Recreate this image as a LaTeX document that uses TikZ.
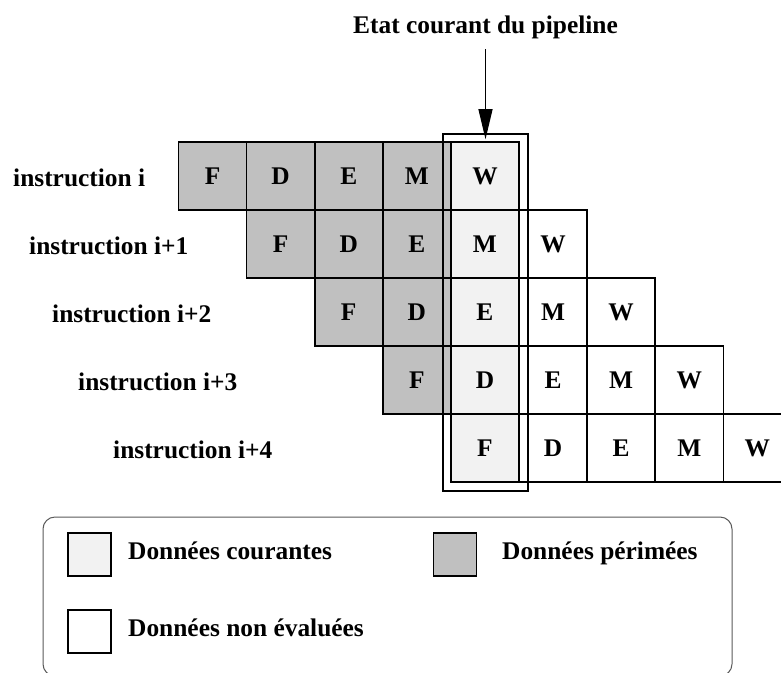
\documentclass[tikz,border=0pt]{standalone}
\usepackage{fontspec}
\setmainfont{Liberation Serif}
\usetikzlibrary{arrows.meta}

\definecolor{courant}{RGB}{242,242,242}
\definecolor{perime}{RGB}{192,192,192}
\definecolor{legendline}{RGB}{90,90,90}

\tikzset{
  txt/.style={font=\fontsize{25.4}{30}\selectfont\bfseries, inner sep=0pt},
  cell/.style={txt, draw=black, line width=1.6pt,
    minimum width=68.1pt, minimum height=68pt, anchor=center},
  swatch/.style={draw=black, line width=1.3pt, inner sep=0pt,
    minimum width=43pt, minimum height=43pt},
  rowlabel/.style={txt, anchor=base west},
  legtext/.style={txt, anchor=base west},
}

\begin{document}
\begin{tikzpicture}[x=1pt, y=-1pt]
  \useasboundingbox (0,0) rectangle (781,672);
  \clip (0,0) rectangle (781,672);
  \fill[white] (0,0) rectangle (781,672);

  % title
  \node[txt, anchor=base] (title) at (485.5,33) {Etat courant du pipeline};

  % pipeline stages, one row per instruction, shifted one column per row
  \foreach \r in {0,...,4}{
    \foreach \k/\l in {0/F,1/D,2/E,3/M,4/W}{
      \pgfmathtruncatemacro{\c}{\r+\k}
      \ifnum\c<4 \def\cellfill{perime}\else
        \ifnum\c=4 \def\cellfill{courant}\else\def\cellfill{white}\fi\fi
      \node[cell, fill=\cellfill] (c\r\k)
        at ({178.5+68.1*\c+34.05},{142+68*\r+34}) {\l};
    }
  }

  % row labels
  \node[rowlabel] (l0) at (13,186)  {instruction i};
  \node[rowlabel] (l1) at (29,254)  {instruction i+1};
  \node[rowlabel] (l2) at (52,322)  {instruction i+2};
  \node[rowlabel] (l3) at (78,390)  {instruction i+3};
  \node[rowlabel] (l4) at (113,458) {instruction i+4};

  % frame around the current column
  \node[draw=black, line width=1.6pt, inner sep=0pt,
        minimum width=85pt, minimum height=357pt] (cur) at (485.5,312.5) {};

  % pointer from the title
  \coordinate (astart) at (485.5,49);
  \draw[-{Triangle[length=30pt,width=14pt]}, line width=1.2pt]
    (astart) -- ([yshift=-6pt]cur.north);

  % legend
  \node[draw=legendline, line width=1pt, rounded corners=12pt, inner sep=0pt,
        minimum width=689pt, minimum height=159pt] (legend) at (387.5,596.5) {};
  \node[swatch, fill=courant] (sw1) at (89.5,554.5) {};
  \node[legtext] (t1) at (128,559) {Données courantes};
  \node[swatch, fill=perime] (sw2) at (455,554.5) {};
  \node[legtext] (t2) at (502,559) {Données périmées};
  \node[swatch, fill=white] (sw3) at (89.5,631.5) {};
  \node[legtext] (t3) at (128,636) {Données non évaluées};
\end{tikzpicture}
\end{document}
